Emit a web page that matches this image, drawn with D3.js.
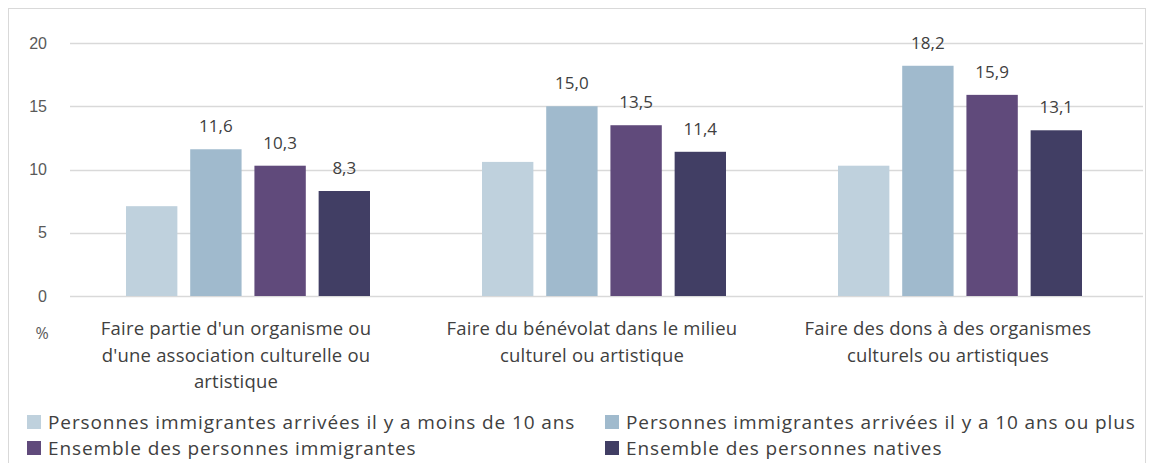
<!DOCTYPE html>
<html>
<head>
<meta charset="utf-8">
<script src="https://cdn.jsdelivr.net/npm/d3@7"></script>
<style>
  body { margin: 0; background: #fff; }
  svg { font-family: "Open Sans", sans-serif; }
  .axis text { fill: #595959; font-size: 16px; }
  .cat-label { fill: #404040; font-size: 18.5px; letter-spacing: 0.2px; }
  .legend text { fill: #404040; font-size: 19px; letter-spacing: 0.9px; }
  .value-label { fill: #404040; font-size: 17px; }
</style>
</head>
<body>
<div id="chart"></div>
<script>
// Data
const categories = [
  ["Faire partie d'un organisme ou", "d'une association culturelle ou", "artistique"],
  ["Faire du bénévolat dans le milieu", "culturel ou artistique"],
  ["Faire des dons à des organismes", "culturels ou artistiques"],
];
const seriesNames = [
  "Personnes immigrantes arrivées il y a moins de 10 ans",
  "Personnes immigrantes arrivées il y a 10 ans ou plus",
  "Ensemble des personnes immigrantes",
  "Ensemble des personnes natives",
];
const recentImmigrants = [7.1, 10.6, 10.3];
const olderImmigrants = [11.6, 15.0, 18.2];
const allImmigrants = [10.3, 13.5, 15.9];
const natives = [8.3, 11.4, 13.1];
const showLabels = [false, true, true, true];
const yTicks = [0, 5, 10, 15, 20];
const colors = ["#bfd1dd", "#a0bacd", "#604a7b", "#413e64"];

const seriesValues = [recentImmigrants, olderImmigrants, allImmigrants, natives];

// Set up
const svgWidth = 1154;
const svgHeight = 463;
const margin = { top: 43, right: 16, bottom: 167, left: 70 };
const width = 1068;
const height = svgHeight - margin.top - margin.bottom;

const svg = d3.select("#chart").append("svg")
  .attr("width", svgWidth)
  .attr("height", svgHeight);

// Chart frame
svg.append("rect")
  .attr("x", 8.5).attr("y", 8.5)
  .attr("width", 1137).attr("height", 470)
  .attr("fill", "none")
  .attr("stroke", "#d9d9d9");

const g = svg.append("g").attr("transform", `translate(${margin.left},${margin.top})`);

// Scales
const x0 = d3.scaleBand().domain(d3.range(categories.length)).range([0, width]);
const x1 = d3.scaleBand().domain(d3.range(seriesNames.length)).range([56, x0.bandwidth() - 56]).paddingInner(0.2);
const y = d3.scaleLinear().domain([0, 20]).range([height, 0]);

// Gridlines
g.append("g")
  .selectAll("line")
  .data(yTicks)
  .join("line")
  .attr("x1", 0).attr("x2", width + 5)
  .attr("y1", (d) => Math.round(y(d)) + 0.5)
  .attr("y2", (d) => Math.round(y(d)) + 0.5)
  .attr("stroke", "#d9d9d9")
  .attr("stroke-width", 1.5);

// Y axis
const gY = g.append("g").attr("class", "axis")
  .call(d3.axisLeft(y).tickValues(yTicks).tickSize(0).tickPadding(23));
gY.select(".domain").remove();

g.append("text")
  .attr("x", -28).attr("y", height + 43)
  .attr("text-anchor", "middle")
  .style("fill", "#595959").style("font-size", "16px")
  .text("%");

// Bars
const groups = g.append("g")
  .selectAll("g")
  .data(categories.map((c, i) => seriesValues.map((s, j) => ({ series: j, value: s[i] }))))
  .join("g")
  .attr("transform", (d, i) => `translate(${x0(i)},0)`);

groups.selectAll("rect")
  .data((d) => d)
  .join("rect")
  .attr("x", (d) => x1(d.series))
  .attr("width", x1.bandwidth())
  .attr("y", (d) => y(d.value))
  .attr("height", (d) => y(0) - y(d.value))
  .attr("fill", (d) => colors[d.series]);

groups.selectAll(".value-label")
  .data((d) => d.filter((e) => showLabels[e.series]))
  .join("text")
  .attr("class", "value-label")
  .attr("x", (d) => x1(d.series) + x1.bandwidth() / 2)
  .attr("y", (d) => y(d.value) - 17)
  .attr("text-anchor", "middle")
  .text((d) => d3.format(".1f")(d.value).replace(".", ","));

// Category labels (slightly left of the group centre, as in the source)
const labelShift = -12;
const gCat = g.append("g");
categories.forEach((lines, i) => {
  const cx = x0(i) + x0.bandwidth() / 2 + labelShift;
  const t = gCat.append("text")
    .attr("class", "cat-label")
    .attr("text-anchor", "middle")
    .attr("x", cx)
    .attr("y", height + 39);
  lines.forEach((line, k) => {
    t.append("tspan")
      .attr("x", cx)
      .attr("dy", k === 0 ? 0 : 26.5)
      .text(line);
  });
});

// Legend
const legend = svg.append("g").attr("class", "legend");
const legendItem = legend.selectAll("g")
  .data(seriesNames)
  .join("g")
  .attr("transform", (d, i) => `translate(${i % 2 === 0 ? 27 : 605},${i < 2 ? 415 : 441})`);
legendItem.append("rect")
  .attr("width", 14).attr("height", 14)
  .attr("fill", (d, i) => colors[i]);
legendItem.append("text")
  .attr("x", 21).attr("y", 14)
  .text((d) => d);
</script>
</body>
</html>
